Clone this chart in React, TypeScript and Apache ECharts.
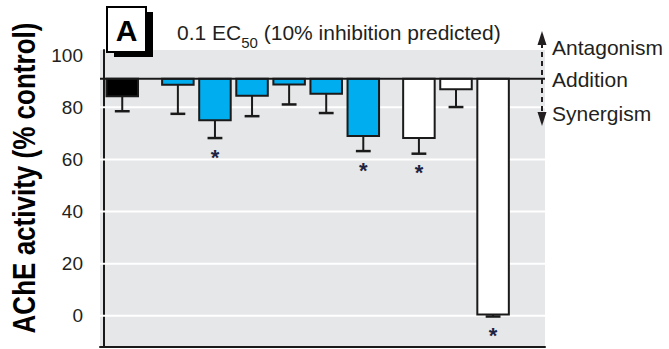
import React, { useEffect, useRef } from "react";
import * as echarts from "echarts";

// ---- data ----
const barPositions = [0.5, 2, 3, 4, 5, 6, 7, 8.5, 9.5, 10.5];
const barMeans = [84.2, 88.7, 75.0, 84.4, 88.8, 85.2, 69.0, 68.2, 86.9, 0.5];
const barErrors = [5.7, 11.2, 6.8, 7.8, 7.7, 7.4, 5.8, 6.0, 6.8, 0.8];
const barColors = [
  "#000000",
  "#00aeef",
  "#00aeef",
  "#00aeef",
  "#00aeef",
  "#00aeef",
  "#00aeef",
  "#ffffff",
  "#ffffff",
  "#ffffff",
];
const significant = [false, false, true, false, false, false, true, true, false, true];
const additionLevel = 91;
const yTickLabels = [0, 20, 40, 60, 80, 100];
const gridLevels = [0, 20, 40, 60, 80];
const zoneLabels = ["Antagonism", "Addition", "Synergism"];
const panelLetter = "A";
const yAxisTitle = "AChE activity (% control)";

const TEXT = "#231f20";
const REG = '"Liberation Sans", Arial, sans-serif';

export default function App() {
  const ref = useRef<HTMLDivElement>(null);

  useEffect(() => {
    if (!ref.current) return;
    const chart = echarts.init(ref.current, undefined, { renderer: "svg" });

    const barData = barPositions.map((x, i) => [x, barMeans[i], barErrors[i]]);

    const option: any = {
      animation: false,
      grid: {
        left: 100,
        right: 124,
        top: 50,
        bottom: 2,
        show: true,
        backgroundColor: "#e6e7e8",
        borderWidth: 0,
      },
      xAxis: {
        type: "value",
        min: -0.1,
        max: 11.9,
        axisLine: { show: true, onZero: false, lineStyle: { color: "#1a1a1a", width: 2 } },
        axisTick: { show: false },
        axisLabel: { show: false },
        splitLine: { show: false },
      },
      yAxis: {
        type: "value",
        min: -12,
        max: 102,
        interval: 2,
        axisLine: { show: true, lineStyle: { color: "#1a1a1a", width: 2 } },
        axisTick: { show: false },
        splitLine: { show: false },
        axisLabel: {
          margin: 17,
          color: TEXT,
          fontFamily: REG,
          fontSize: 19,
          formatter: (v: number) => {
            const r = Math.round(v);
            return Math.abs(v - r) < 1e-6 && yTickLabels.includes(r) ? String(r) : "";
          },
        },
      },
      series: [
        {
          type: "custom",
          z: 1,
          silent: true,
          data: gridLevels.map((v) => [0, v]),
          renderItem: (params: any, api: any) => {
            const y = api.coord([0, api.value(1)])[1];
            const cs = params.coordSys;
            return {
              type: "line",
              shape: { x1: cs.x, y1: y, x2: cs.x + cs.width, y2: y },
              style: { stroke: "#ffffff", lineWidth: 2 },
            };
          },
        },
        {
          type: "custom",
          z: 3,
          silent: true,
          data: barData,
          renderItem: (params: any, api: any) => {
            const i = params.dataIndex;
            const x = api.value(0);
            const m = api.value(1);
            const s = api.value(2);
            const top = api.coord([x, additionLevel]);
            const bot = api.coord([x, m]);
            const errEnd = api.coord([x, m - s]);
            const w = api.size([0.85, 0])[0];
            const capW = api.size([0.4, 0])[0];
            const cx = top[0];
            const children: any[] = [
              {
                type: "line",
                shape: { x1: cx, y1: bot[1], x2: cx, y2: errEnd[1] },
                style: { stroke: "#1a1a1a", lineWidth: 2 },
              },
              {
                type: "line",
                shape: { x1: cx - capW / 2, y1: errEnd[1], x2: cx + capW / 2, y2: errEnd[1] },
                style: { stroke: "#1a1a1a", lineWidth: 2.5 },
              },
              {
                type: "rect",
                shape: { x: cx - w / 2, y: top[1], width: w, height: bot[1] - top[1] },
                style: { fill: barColors[i], stroke: "#1a1a1a", lineWidth: 2 },
              },
            ];
            if (significant[i]) {
              children.push({
                type: "text",
                x: cx,
                y: errEnd[1] + 19,
                style: {
                  text: "*",
                  fill: "#1f2340",
                  font: `bold 22px ${REG}`,
                  align: "center",
                  verticalAlign: "middle",
                },
              });
            }
            return { type: "group", children };
          },
        },
        {
          type: "custom",
          z: 4,
          silent: true,
          data: [[0, additionLevel]],
          renderItem: (params: any, api: any) => {
            const y = api.coord([0, api.value(1)])[1];
            const cs = params.coordSys;
            return {
              type: "line",
              shape: { x1: cs.x, y1: y, x2: cs.x + cs.width, y2: y },
              style: { stroke: "#1a1a1a", lineWidth: 2 },
            };
          },
        },
      ],
      graphic: [
        // panel letter box with shadow
        { type: "rect", z: 10, shape: { x: 114, y: 12, width: 39, height: 45 }, style: { fill: "#000" } },
        {
          type: "rect",
          z: 11,
          shape: { x: 107, y: 7, width: 39, height: 45 },
          style: { fill: "#fff", stroke: "#000", lineWidth: 2 },
        },
        {
          type: "text",
          z: 12,
          x: 126.5,
          y: 30,
          style: { text: panelLetter, font: `bold 30px ${REG}`, fill: "#000", align: "center", verticalAlign: "middle" },
        },
        // title with subscript
        {
          type: "text",
          z: 12,
          x: 177,
          y: 22,
          style: {
            text: "{a|0.1 EC}{s|50}{a| (10% inhibition predicted)}",
            align: "left",
            verticalAlign: "top",
            rich: {
              a: { font: `21px ${REG}`, fill: TEXT, lineHeight: 24, verticalAlign: "top" },
              s: { font: `15px ${REG}`, fill: TEXT, lineHeight: 15, padding: [16, 0, 0, 0] },
            },
          },
        },
        // y axis title (condensed by horizontal scaling)
        {
          type: "text",
          z: 12,
          x: 24,
          y: 178,
          rotation: Math.PI / 2,
          scaleX: 0.84,
          style: {
            text: yAxisTitle,
            font: `bold 31px ${REG}`,
            fill: "#000",
            align: "center",
            verticalAlign: "middle",
          },
        },
        // double-headed dashed arrow
        {
          type: "line",
          z: 12,
          shape: { x1: 542, y1: 43, x2: 542, y2: 114 },
          style: { stroke: TEXT, lineWidth: 2, lineDash: [5, 4] },
        },
        {
          type: "polygon",
          z: 12,
          shape: { points: [[542, 31], [537.5, 45], [546.5, 45]] },
          style: { fill: TEXT },
        },
        {
          type: "polygon",
          z: 12,
          shape: { points: [[542, 126], [537.5, 112], [546.5, 112]] },
          style: { fill: TEXT },
        },
        ...zoneLabels.map((t, k) => ({
          type: "text",
          z: 12,
          x: 552,
          y: [47, 79, 113][k],
          style: { text: t, font: `21px ${REG}`, fill: TEXT, align: "left", verticalAlign: "middle" },
        })),
      ],
    };

    chart.setOption(option);
    return () => chart.dispose();
  }, []);

  return (
    <div
      ref={ref}
      style={{ position: "absolute", left: 0, top: 0, width: 669, height: 349, background: "#fff" }}
    />
  );
}
